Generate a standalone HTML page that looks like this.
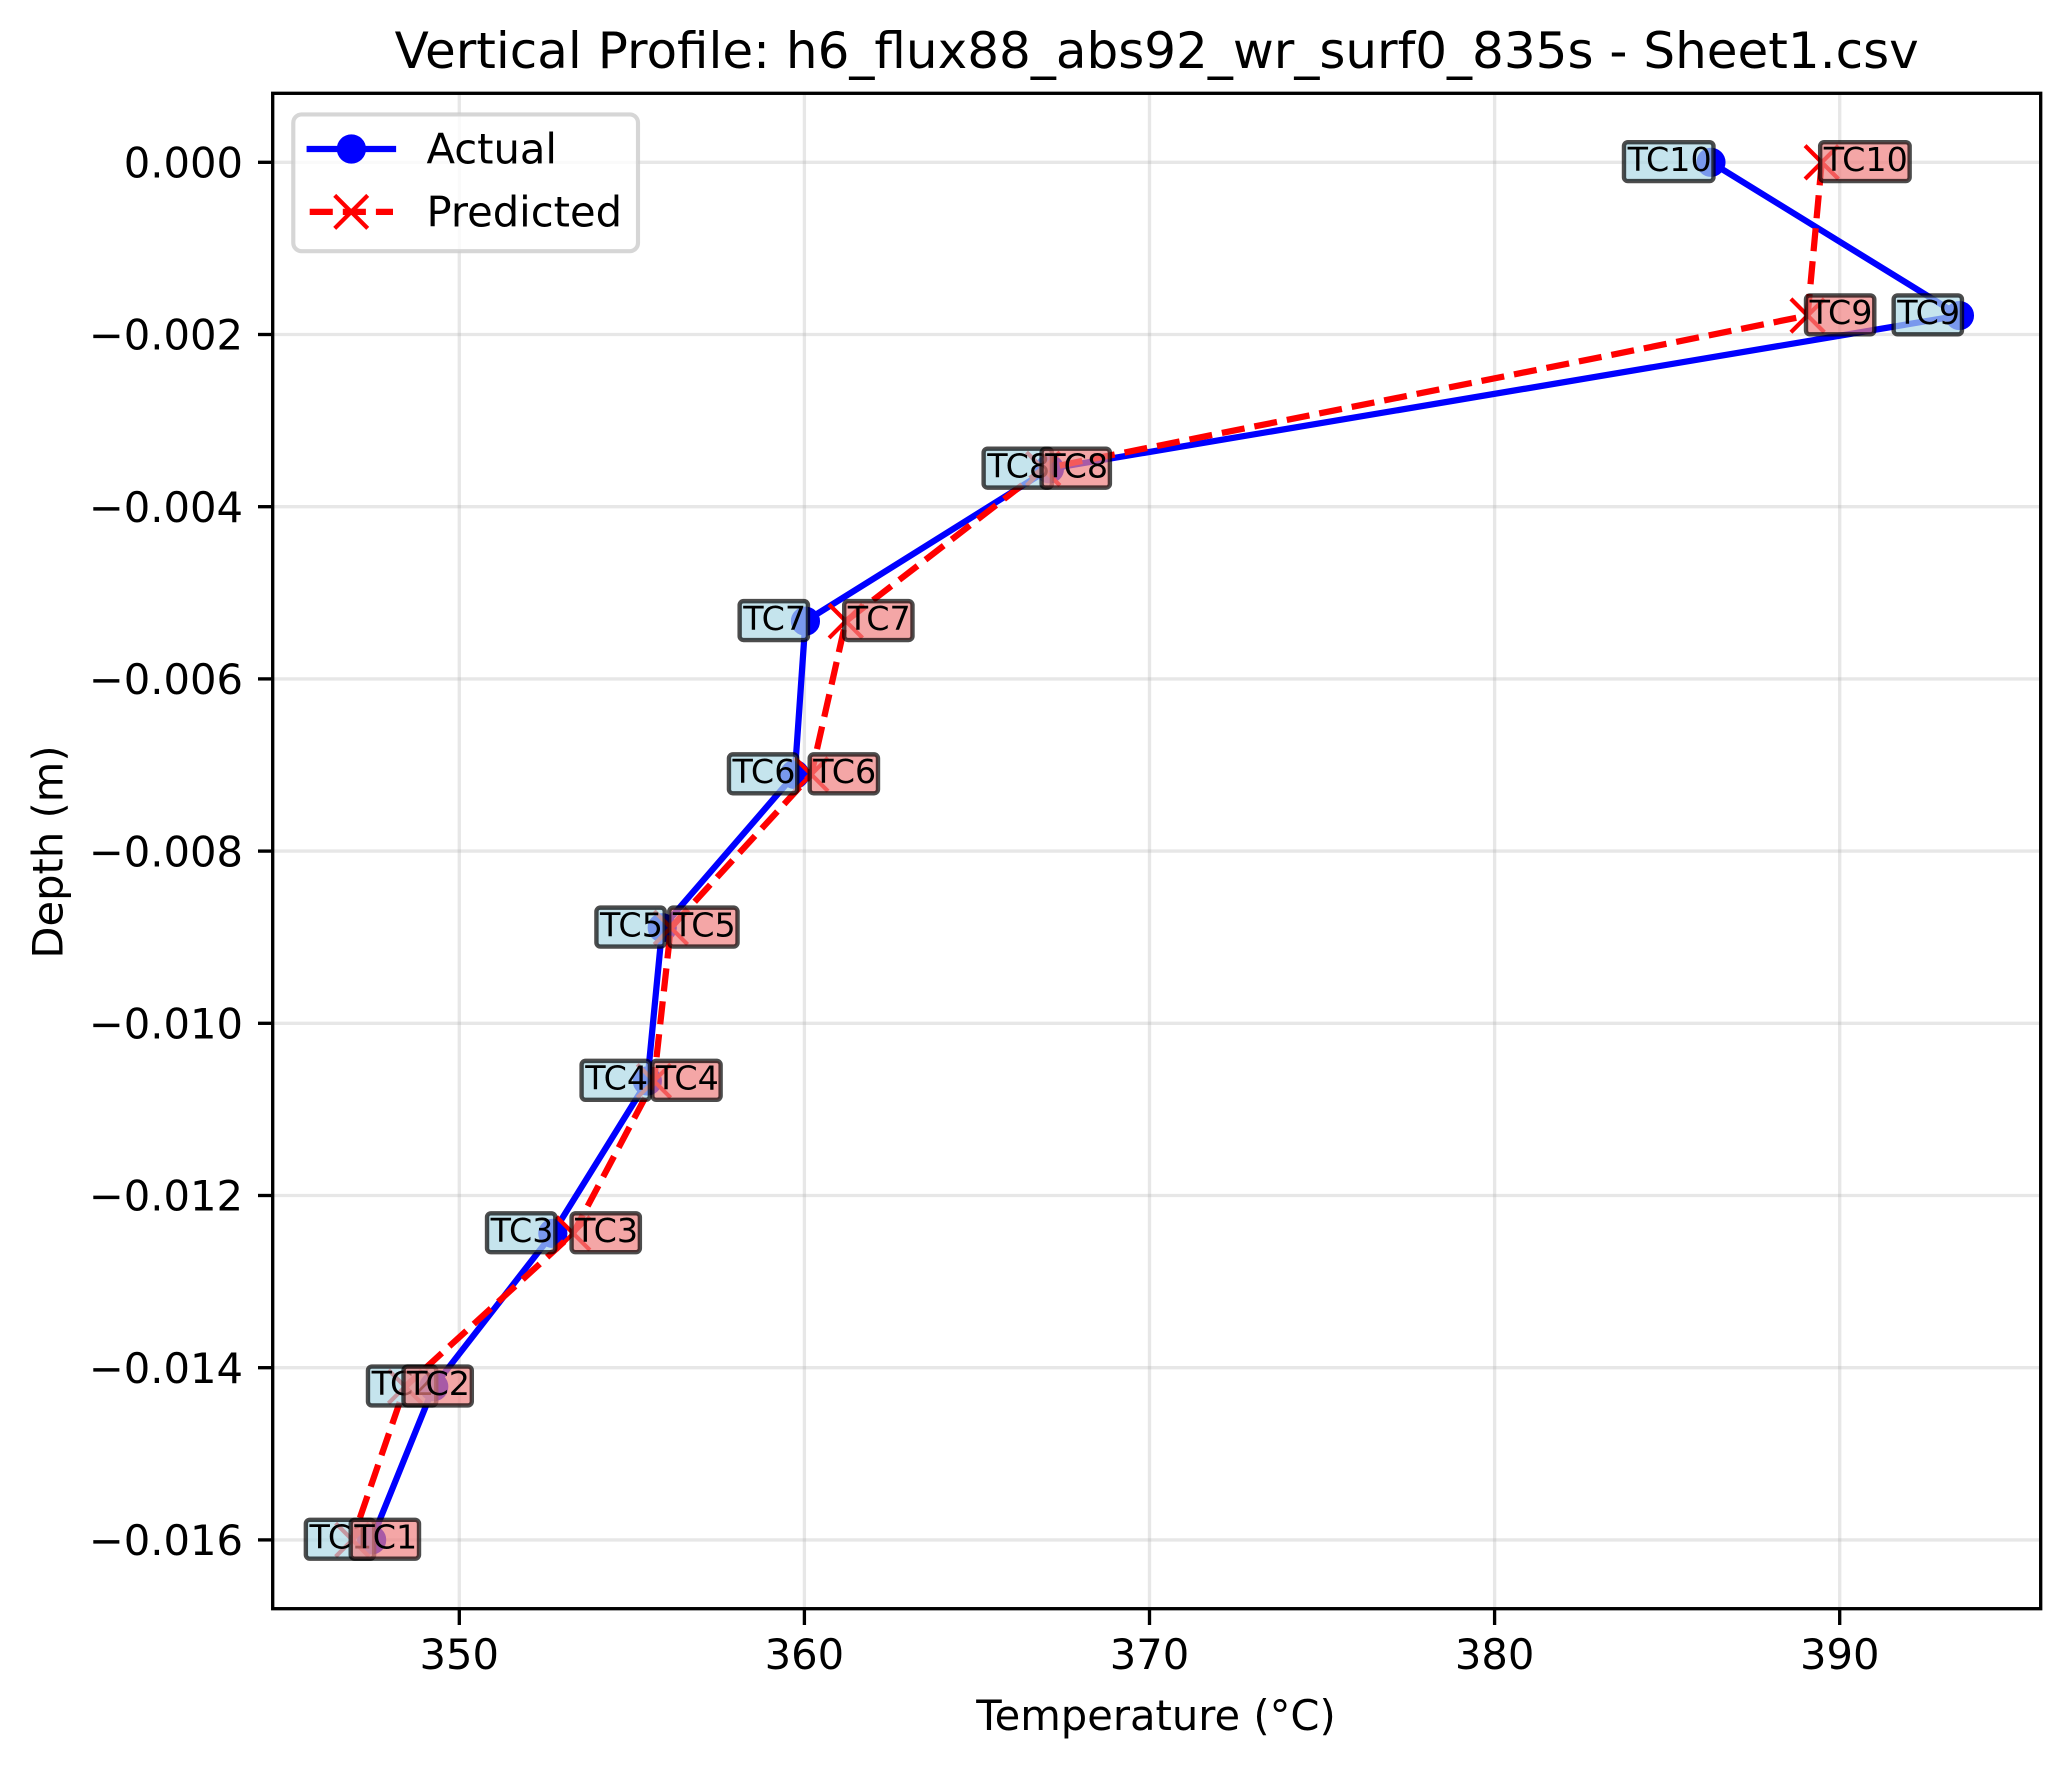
<!DOCTYPE html>
<html>
<head>
<meta charset="utf-8">
<title>Vertical Profile</title>
<style>
html,body{margin:0;padding:0;background:#fff;}
svg{display:block;}
text{font-family:"DejaVu Sans","Liberation Sans",sans-serif;fill:#000;}
</style>
</head>
<body>
<svg id="chart" xmlns="http://www.w3.org/2000/svg" width="2069" height="1769" viewBox="0 0 2069 1769">
  <rect x="0" y="0" width="2069" height="1769" fill="#ffffff"/>
  <text x="1156.7" y="68" font-size="50" text-anchor="middle">Vertical Profile: h6_flux88_abs92_wr_surf0_835s - Sheet1.csv</text>
  <g id="grid"></g>
  <g id="series"></g>
  <g id="labels"></g>
  <g id="axes"></g>
  <rect x="272.7" y="93.3" width="1768" height="1515.4" fill="none" stroke="#000" stroke-width="3.33"/>
  <text x="1156" y="1730" font-size="41.67" text-anchor="middle">Temperature (°C)</text>
  <text transform="translate(62.7 852) rotate(-90)" font-size="41.67" text-anchor="middle">Depth (m)</text>
  <g>
    <rect x="293.3" y="114.4" width="344.7" height="136.8" rx="8.3" ry="8.3" fill="#ffffff" fill-opacity="0.8" stroke="#cccccc" stroke-opacity="0.8" stroke-width="4.17"/>
    <line x1="309.7" y1="149" x2="393" y2="149" stroke="#0000ff" stroke-width="6.25" stroke-linecap="square"/>
    <circle cx="351.4" cy="149" r="12.5" fill="#0000ff" stroke="#0000ff" stroke-width="4.17"/>
    <text x="426.5" y="163.3" font-size="41.67">Actual</text>
    <line x1="309.7" y1="211.9" x2="393" y2="211.9" stroke="#ff0000" stroke-width="6.25" stroke-dasharray="23.1 10"/>
    <path d="M334.7 195.4 L367.7 228.4 M334.7 228.4 L367.7 195.4" fill="none" stroke="#ff0000" stroke-width="4.17"/>
    <text x="426.5" y="226.7" font-size="41.67">Predicted</text>
  </g>
</svg>
<script>
const sensorLabels = ["TC10","TC9","TC8","TC7","TC6","TC5","TC4","TC3","TC2","TC1"];
const depths = [0,-0.00178,-0.00356,-0.00533,-0.00711,-0.00889,-0.01067,-0.01244,-0.01422,-0.016];
const actualTemps = [386.27,393.47,367.1,360.03,359.72,355.88,355.45,352.71,349.26,347.46];
const predictedTemps = [389.48,389.07,366.92,361.2,360.2,356.13,355.64,353.3,348.43,346.9];
const xTicks = [350,360,370,380,390];
const xTickLabels = ["350","360","370","380","390"];
const yTicks = [0,-0.002,-0.004,-0.006,-0.008,-0.01,-0.012,-0.014,-0.016];
const yTickLabels = ["0.000","\u22120.002","\u22120.004","\u22120.006","\u22120.008","\u22120.010","\u22120.012","\u22120.014","\u22120.016"];

const NS = "http://www.w3.org/2000/svg";
function xScale(v){ return 459.3 + (v - 350) * 34.51; }
function yScale(d){ return 162.3 - d / 0.002 * 172.2; }
function make(tag, attrs, parent){
  const el = document.createElementNS(NS, tag);
  for (const k in attrs) el.setAttribute(k, attrs[k]);
  parent.appendChild(el);
  return el;
}
const gridG = document.getElementById("grid");
const axesG = document.getElementById("axes");
const seriesG = document.getElementById("series");
const labelsG = document.getElementById("labels");

xTicks.forEach(function(t, i){
  const x = xScale(t);
  const g = make("line", {x1:x, x2:x, y1:93.3, y2:1608.7, stroke:"#b0b0b0", "stroke-opacity":0.3, "stroke-width":3.33}, gridG);
  
  
  const tick = make("line", {x1:x, x2:x, y1:1608.7, y2:1625, stroke:"#000", "stroke-width":3.33}, axesG);
  
  
  const lab = make("text", {x:x, y:1669, "font-size":41.67, "text-anchor":"middle"}, axesG);
  
  
  lab.textContent = xTickLabels[i];
});
yTicks.forEach(function(t, i){
  const y = yScale(t);
  const g = make("line", {x1:272.7, x2:2040.7, y1:y, y2:y, stroke:"#b0b0b0", "stroke-opacity":0.3, "stroke-width":3.33}, gridG);
  
  
  const tick = make("line", {x1:258, x2:272.7, y1:y, y2:y, stroke:"#000", "stroke-width":3.33}, axesG);
  
  
  const lab = make("text", {x:243, y:y + 15.2, "font-size":41.67, "text-anchor":"end"}, axesG);
  
  
  lab.textContent = yTickLabels[i];
});

function pointsOf(temps){
  return temps.map(function(v, i){ return xScale(v).toFixed(2) + "," + yScale(depths[i]).toFixed(2); }).join(" ");
}
const actualLine = make("polyline", {points:pointsOf(actualTemps), fill:"none", stroke:"#0000ff", "stroke-width":6.25, "stroke-linejoin":"round"}, seriesG);


actualTemps.forEach(function(v, i){
  const c = make("circle", {cx:xScale(v), cy:yScale(depths[i]), r:12.5, fill:"#0000ff", stroke:"#0000ff", "stroke-width":4.17}, seriesG);
  
  
});
const predictedLine = make("polyline", {points:pointsOf(predictedTemps), fill:"none", stroke:"#ff0000", "stroke-width":6.25, "stroke-dasharray":"23.1 10", "stroke-linejoin":"round"}, seriesG);


predictedTemps.forEach(function(v, i){
  const x = xScale(v), y = yScale(depths[i]), a = 16.7;
  const m = make("path", {d:"M"+(x-a)+" "+(y-a)+" L"+(x+a)+" "+(y+a)+" M"+(x-a)+" "+(y+a)+" L"+(x+a)+" "+(y-a), fill:"none", stroke:"#ff0000", "stroke-width":4.17}, seriesG);
  
  
});

function drawLabel(name, px, py, isActual){
  const rect = make("rect", {rx:3.9, ry:3.9, fill:isActual ? "#add8e6" : "#f08080", "fill-opacity":0.7, stroke:"#000", "stroke-opacity":0.7, "stroke-width":4.4}, labelsG);
  
  
  const txt = make("text", {"font-size":33.33, y:py + 8.6}, labelsG);
  
  
  txt.textContent = name;
  const adv = txt.getComputedTextLength();
  const outer = adv + 9.8;
  const left = isActual ? px + 4.7 - outer : px - 3.8;
  rect.setAttribute("x", left + 2.2);
  rect.setAttribute("y", py - 22.3 + 2.2);
  rect.setAttribute("width", outer - 4.4);
  rect.setAttribute("height", 38.9);
  txt.setAttribute("x", left + 5.8);
}
actualTemps.forEach(function(v, i){ drawLabel(sensorLabels[i], xScale(v), yScale(depths[i]), true); });
predictedTemps.forEach(function(v, i){ drawLabel(sensorLabels[i], xScale(v), yScale(depths[i]), false); });
</script>
</body>
</html>
